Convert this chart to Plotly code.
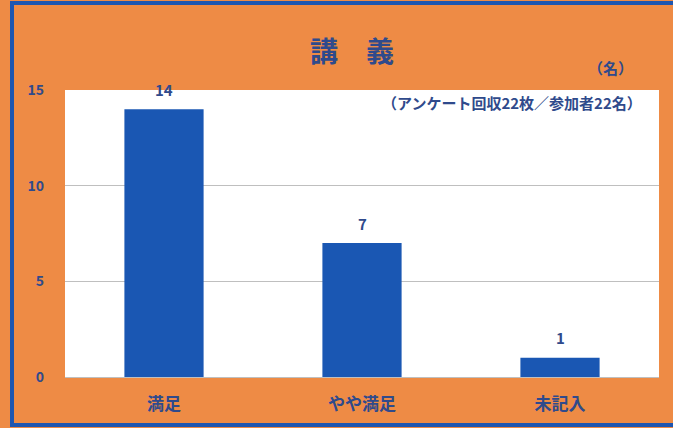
import plotly.graph_objects as go

categories = ["満足", "やや満足", "未記入"]
values = [14, 7, 1]
y_ticks = [0, 5, 10, 15]

W, H = 673, 428
L, R, T, B = 65, 14, 90, 51
pw, ph = W - L - R, H - T - B

def px(x):
    return (x - L) / pw

def py(y):
    return (H - B - y) / ph

navy = "#2F4A8C"
orange = "#EE8B45"
blue = "#1A57B3"
font = "Noto Sans CJK JP"

fig = go.Figure(go.Bar(
    x=categories, y=values, marker=dict(color=blue, line=dict(width=0)),
))

for c, v in zip(categories, values):
    fig.add_annotation(x=c, y=v, text=f"<b>{v}</b>", showarrow=False, yshift=20,
                       font=dict(family=font, size=15, color=navy))

fig.update_layout(
    width=W, height=H, margin=dict(l=L, r=R, t=T, b=B),
    paper_bgcolor=orange, plot_bgcolor="white",
    bargap=0.6, showlegend=False,
    font=dict(family=font, color=navy),
    xaxis=dict(tickvals=categories, ticktext=[f"<b>{c}</b>" for c in categories],
               tickfont=dict(family=font, size=17, color=navy), showline=True,
               linecolor="#BFBFBF", ticks="", showgrid=False, ticklabelstandoff=12),
    yaxis=dict(range=[0, 15], tickvals=y_ticks, ticktext=[f"<b>{t}</b>" for t in y_ticks],
               showgrid=True, gridcolor="#BFBFBF",
               tickfont=dict(family=font, size=14, color=navy), zeroline=False,
               ticks="", ticklabelstandoff=20),
)

fig.add_annotation(text="<b>講　義</b>", xref="paper", yref="paper", x=px(352), y=py(50),
                   xanchor="center", yanchor="middle",
                   showarrow=False, font=dict(family=font, size=28, color=navy))
fig.add_annotation(text="<b>（名）</b>", xref="paper", yref="paper", x=px(610), y=py(68),
                   xanchor="center", yanchor="middle",
                   showarrow=False, font=dict(family=font, size=15, color=navy))
fig.add_annotation(text="<b>（アンケート回収22枚／参加者22名）</b>", xref="paper", yref="paper",
                   x=px(512), y=py(102), xanchor="center", yanchor="middle", showarrow=False,
                   font=dict(family=font, size=15, color=navy))

# outer frame
fig.add_shape(type="line", xref="paper", yref="paper", x0=px(12), x1=px(12), y0=py(3), y1=py(425),
              line=dict(color="#1E56B0", width=4))
fig.add_shape(type="line", xref="paper", yref="paper", x0=px(10), x1=px(673), y0=py(3), y1=py(3),
              line=dict(color="#1E56B0", width=4))
fig.add_shape(type="line", xref="paper", yref="paper", x0=px(10), x1=px(673), y0=py(425), y1=py(425),
              line=dict(color="#1E56B0", width=4))

fig.write_html("out.html")
